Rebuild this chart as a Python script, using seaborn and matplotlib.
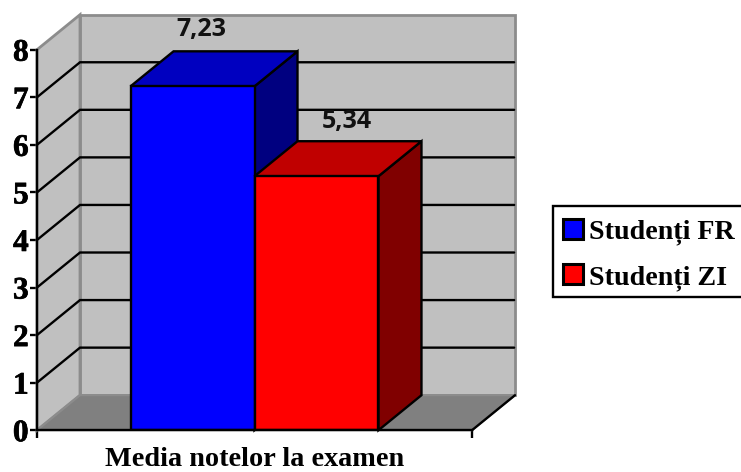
import matplotlib
matplotlib.use("Agg")
import matplotlib.pyplot as plt
import matplotlib.patheffects as pe
import pandas as pd
import seaborn as sns
from matplotlib.patches import Polygon, Rectangle

series_names = ["Studenți FR", "Studenți ZI"]
series_values = [7.23, 5.34]
value_labels = ["7,23", "5,34"]
category_name = "Media notelor la examen"
y_ticks = [0, 1, 2, 3, 4, 5, 6, 7, 8]

front_colors = ["#0000FF", "#FF0000"]
top_colors = ["#0000C0", "#C00000"]
side_colors = ["#000080", "#800000"]
WALL = "#C0C0C0"
FLOOR = "#808080"
WALL_EDGE = "#8C8C8C"
SERIF = "Liberation Serif"
LW = 1.7

W, H = 741, 472
LEFT, RIGHT, BASE, TOP = 37, 472, 430.2, 49.7

sns.set_theme(style="white")
plt.rcParams["font.family"] = [SERIF, "DejaVu Sans"]

fig = plt.figure(figsize=(W / 100, H / 100), dpi=100)
ax = fig.add_axes([LEFT / W, 1 - BASE / H, (RIGHT - LEFT) / W, (BASE - TOP) / H])
ax.patch.set_alpha(0)

frame = pd.DataFrame({"group": [category_name] * 2, "series": series_names, "value": series_values})
sns.barplot(
    data=frame, x="group", y="value", hue="series", hue_order=series_names,
    palette=front_colors, width=0.57, gap=0, edgecolor="black", linewidth=LW,
    saturation=1, ax=ax, zorder=5,
)
ax.set_xlim(-0.5, 0.5)
ax.set_ylim(0, y_ticks[-1])

# Oblique depth of the box, in data units
dx = 43 / (RIGHT - LEFT)
dy = 35 / ((BASE - TOP) / y_ticks[-1])
x0, x1 = ax.get_xlim()
ymax = y_ticks[-1]


def face(points, color, edge, z, lw=LW):
    ax.add_patch(Polygon(points, closed=True, facecolor=color, edgecolor=edge,
                         linewidth=lw, zorder=z, clip_on=False, joinstyle="miter"))


# Back wall, side wall and floor
face([(x0 + dx, dy), (x1 + dx, dy), (x1 + dx, ymax + dy), (x0 + dx, ymax + dy)], WALL, WALL_EDGE, 1, 2)
face([(x0, 0), (x0 + dx, dy), (x0 + dx, ymax + dy), (x0, ymax)], WALL, WALL_EDGE, 1, 2)
face([(x0, 0), (x1, 0), (x1 + dx, dy), (x0 + dx, dy)], FLOOR, WALL_EDGE, 1.5, 1.5)

# Gridlines run along the side wall and across the back wall
for t in y_ticks[1:-1]:
    ax.plot([x0, x0 + dx, x1 + dx - 0.002], [t, t + dy, t + dy], color="black", lw=LW,
            zorder=2, clip_on=False, solid_joinstyle="miter")
ax.plot([x1, x1 + dx], [0, dy], color="black", lw=LW, zorder=3, clip_on=False)

# Side and top faces of each bar, then its value label
label_offsets = [(9, 57), (30, 54.7)]
for i, container in enumerate(ax.containers):
    bar = container[0]
    a, w, v = bar.get_x(), bar.get_width(), bar.get_height()
    b = a + w
    bar.set_zorder(5 + 3 * i)
    face([(b, 0), (b + dx, dy), (b + dx, v + dy), (b, v)], side_colors[i], "black", 3 + 3 * i)
    face([(a, v), (b, v), (b + dx, v + dy), (a + dx, v + dy)], top_colors[i], "black", 4 + 3 * i)
    ox, oy = label_offsets[i]
    ax.annotate(value_labels[i], xy=(a + w / 2, v), xytext=(ox * 0.72, oy * 0.72),
                textcoords="offset points", ha="center", va="center", fontsize=18,
                fontweight="bold", family="Open Sans", color="#111111", zorder=20,
                annotation_clip=False)

sns.despine(ax=ax, top=True, right=True)
for side in ("left", "bottom"):
    ax.spines[side].set_color("black")
    ax.spines[side].set_linewidth(LW)
    ax.spines[side].set_zorder(15)

ax.set_yticks(y_ticks)
ax.set_xticks([x0, x1])
ax.set_xticklabels(["", ""])
ax.tick_params(axis="y", left=True, length=5, width=LW, color="black", pad=1,
               labelsize=22.5, labelcolor="black")
ax.tick_params(axis="x", bottom=True, length=6, width=LW, color="black")
heavier = [pe.withStroke(linewidth=0.5, foreground="black")]
for lab in ax.get_yticklabels():
    lab.set_fontweight("bold")
    lab.set_family(SERIF)
    lab.set_path_effects(heavier)
ax.set_ylabel("")
ax.set_xlabel(category_name, fontsize=20.3, fontweight="bold", family=SERIF, color="black")
ax.xaxis.label.set_verticalalignment("baseline")
ax.xaxis.set_label_coords(0.5, -(466.5 - BASE) / (BASE - TOP))

# Legend frame runs off the right edge of the figure
fig.add_artist(Rectangle((553 / W, 1 - 297 / H), 220 / W, 91 / H, transform=fig.transFigure,
                         facecolor="white", edgecolor="black", linewidth=LW))
handles, labels = ax.get_legend_handles_labels()
ax.get_legend().remove()
legend = fig.legend(
    handles, labels, loc="upper left", bbox_to_anchor=(553 / W, 1 - 209 / H),
    borderaxespad=0, frameon=False,
    prop={"family": SERIF, "weight": "bold", "size": 20.2},
    handlelength=0.72, handleheight=0.72, handletextpad=0.22, labelspacing=0.67,
    borderpad=0.36, labelcolor="black",
)
for patch in legend.get_patches():
    patch.set_edgecolor("black")
    patch.set_linewidth(2.2)

fig.savefig("out.png", dpi=100, facecolor="white")
